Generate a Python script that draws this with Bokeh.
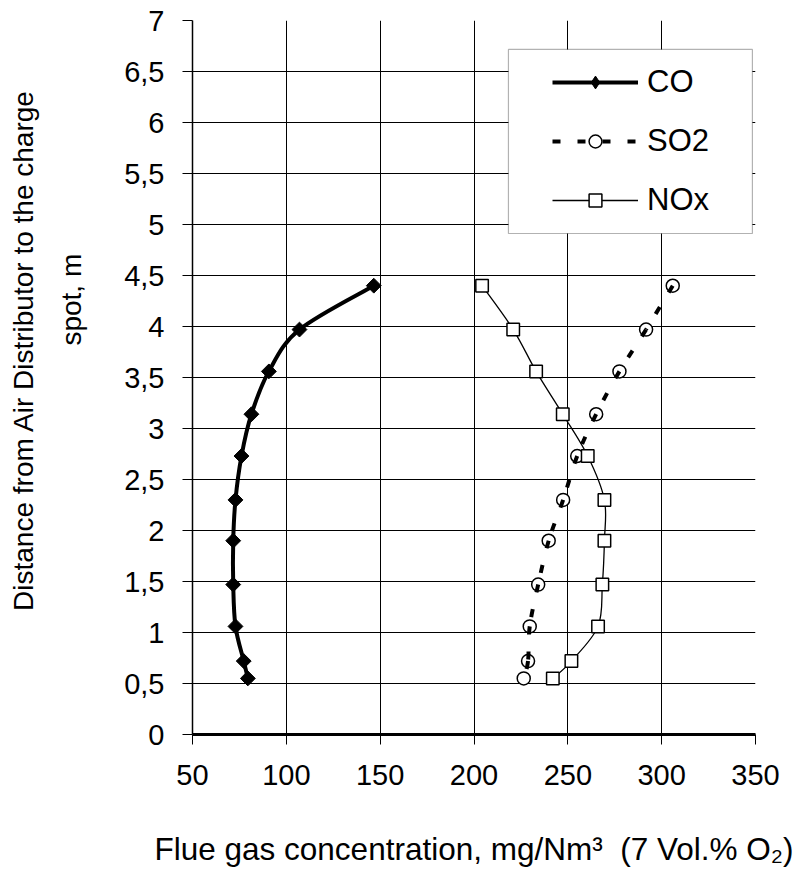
import numpy as np
from bokeh.plotting import figure
from bokeh.models import (Range1d, FixedTicker, Legend, LegendItem,
                          BoxAnnotation)
from bokeh.embed import file_html
from bokeh.resources import INLINE

# Measurement heights above the air distributor (m)
distance = [4.40, 3.97, 3.56, 3.14, 2.73, 2.30, 1.90, 1.47, 1.06, 0.72, 0.55]

# Flue gas concentrations, mg/Nm3 at 7 vol.% O2
co = [146.6, 107.0, 90.7, 81.4, 76.1, 72.9, 71.7, 71.7, 72.9, 77.3, 79.5]
so2 = [305.9, 291.7, 277.5, 265.1, 255.0, 247.5, 239.8, 234.2, 229.7, 228.8, 226.5]
nox = [204.3, 220.9, 233.1, 247.3, 260.6, 269.5, 269.5, 268.4, 266.1, 251.9, 242.0]

x_ticks = [50, 100, 150, 200, 250, 300, 350]
y_ticks = [0, 0.5, 1, 1.5, 2, 2.5, 3, 3.5, 4, 4.5, 5, 5.5, 6, 6.5, 7]
y_tick_labels = ["0", "0,5", "1", "1,5", "2", "2,5", "3", "3,5", "4", "4,5",
                 "5", "5,5", "6", "6,5", "7"]

FONT = "Liberation Sans"
NBSP = "\u00a0"


def smooth_segments(xs, ys):
    """Cubic Bezier segments (Catmull-Rom style) through the given points."""
    x = np.asarray(xs, float)
    y = np.asarray(ys, float)
    n = len(x)
    xp = np.concatenate([[x[0]], x, [x[-1]]])
    yp = np.concatenate([[y[0]], y, [y[-1]]])
    return dict(
        x0=x[:-1], y0=y[:-1], x1=x[1:], y1=y[1:],
        cx0=x[:-1] + (xp[2:n + 1] - xp[0:n - 1]) / 6.0,
        cy0=y[:-1] + (yp[2:n + 1] - yp[0:n - 1]) / 6.0,
        cx1=x[1:] - (xp[3:n + 2] - xp[1:n]) / 6.0,
        cy1=y[1:] - (yp[3:n + 2] - yp[1:n]) / 6.0,
    )


p = figure(width=799, height=880,
           x_range=Range1d(50, 350), y_range=Range1d(0, 7),
           output_backend="svg", toolbar_location=None,
           min_border_left=192, min_border_right=44,
           min_border_top=20, min_border_bottom=146)
p.outline_line_color = None
p.background_fill_color = "white"
p.border_fill_color = "white"

# axes
p.xaxis.ticker = FixedTicker(ticks=x_ticks)
p.yaxis.ticker = FixedTicker(ticks=y_ticks)
p.yaxis.major_label_overrides = {t: s for t, s in zip(y_ticks, y_tick_labels)}
for ax in (p.xaxis[0], p.yaxis[0]):
    ax.minor_tick_line_color = None
    ax.major_tick_in = 0
    ax.major_tick_out = 10
    ax.major_tick_line_color = "black"
    ax.axis_line_color = "black"
    ax.major_label_text_font = FONT
    ax.major_label_text_font_size = "29px"
    ax.major_label_text_color = "black"
    ax.axis_label_text_font = FONT
    ax.axis_label_text_font_style = "normal"
    ax.axis_label_text_color = "black"
p.yaxis.axis_line_width = 1.5
p.xaxis.axis_line_width = 3
p.yaxis.major_label_standoff = 18
p.xaxis.major_label_standoff = 20

p.xaxis.axis_label = "Flue gas concentration, mg/Nm\u00b3 " + NBSP + "(7 Vol.% O\u2082)"
p.xaxis.axis_label_text_font_size = "31.5px"
p.xaxis.axis_label_standoff = 43

# two-line title; leading no-break spaces lift each line toward the top
p.yaxis.axis_label = (NBSP * 7 + "Distance from Air Distributor to the charge\n"
                      + NBSP * 20 + "spot, m")
p.yaxis.axis_label_text_font_size = "28px"
p.yaxis.axis_label_text_line_height = 1.55
p.yaxis.axis_label_standoff = 34

p.xgrid.grid_line_color = "black"
p.ygrid.grid_line_color = "black"
p.xgrid.grid_line_width = 1
p.ygrid.grid_line_width = 1

# CO
co_line = p.bezier(**smooth_segments(co, distance), line_color="black",
                   line_width=4)
p.scatter(co, distance, marker="square", angle=np.pi / 4, size=10.5,
          fill_color="black", line_color="black")
# legend swatch for the CO marker (no position, so only the legend shows it)
co_key = p.scatter(x=[np.nan], y=[np.nan], marker="diamond",
                   fill_color="black", line_color="black")

# SO2
so2_mark = p.scatter(so2, distance, marker="circle", size=13,
                     fill_color="white", line_color="black", line_width=1.5)
so2_line = p.bezier(**smooth_segments(so2, distance), line_color="black",
                    line_width=4, line_dash="8 17")

# NOx
nox_line = p.bezier(**smooth_segments(nox, distance), line_color="black",
                    line_width=1.3)
nox_mark = p.scatter(nox, distance, marker="square", size=12.5,
                     fill_color="white", line_color="black", line_width=1.5)

# legend frame
p.add_layout(BoxAnnotation(left=218.35, right=348.35, top=6.716, bottom=4.912,
                           fill_color="white", fill_alpha=1.0,
                           line_color="black", line_width=1.2))

legend = Legend(items=[
    LegendItem(label="CO", renderers=[co_line, co_key]),
    LegendItem(label="SO2", renderers=[so2_line, so2_mark]),
    LegendItem(label="NOx", renderers=[nox_line, nox_mark]),
], location=(360, 516))
legend.padding = 0
legend.margin = 0
legend.border_line_color = None
legend.background_fill_alpha = 0
legend.glyph_width = 86
legend.glyph_height = 32
legend.label_height = 36
legend.spacing = 23
legend.label_standoff = 9
legend.label_text_font = FONT
legend.label_text_font_size = "31px"
legend.label_text_color = "black"
legend.label_text_baseline = "middle"
p.add_layout(legend)

open("out.html", "w").write(file_html(p, INLINE))
